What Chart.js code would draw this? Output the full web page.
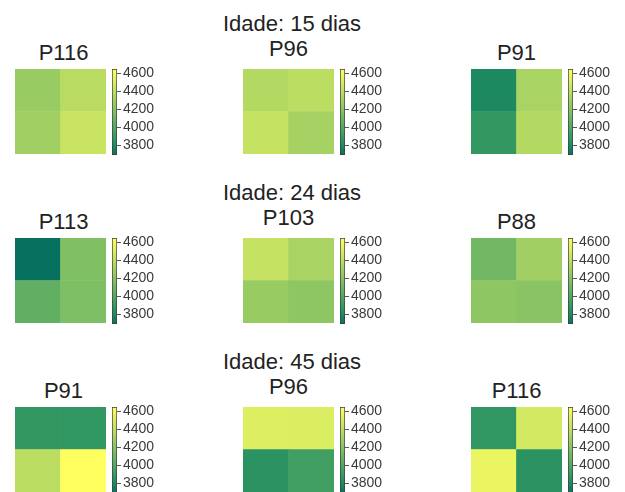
<!DOCTYPE html>
<html>
<head>
<meta charset="utf-8">
<script src="https://cdn.jsdelivr.net/npm/chart.js@4.4.1/dist/chart.umd.min.js"></script>
<style>
  html, body { margin: 0; padding: 0; background: #fff; width: 625px; height: 492px; overflow: hidden; }
  #wrap { position: relative; width: 625px; height: 492px; overflow: hidden; }
  .t { position: absolute; font-family: "Liberation Sans", Arial, sans-serif; font-size: 22px;
       line-height: 22px; color: #222; white-space: nowrap; transform: translateX(-50%); }
  canvas { position: absolute; }
</style>
</head>
<body>
<div id="wrap"></div>
<script>
// Row headings (age) and plot names per panel
const ageLabels = ['Idade: 15 dias', 'Idade: 24 dias', 'Idade: 45 dias'];
const plotNames15 = ['P116', 'P96', 'P91'];
const plotNames24 = ['P113', 'P103', 'P88'];
const plotNames45 = ['P91', 'P96', 'P116'];

// 2x2 grids, [top row], [bottom row]
const p116_15 = [[4260, 4380], [4290, 4440]];
const p96_15  = [[4360, 4390], [4430, 4310]];
const p91_15  = [[3790, 4320], [3880, 4360]];
const p113_24 = [[3690, 4170], [4050, 4160]];
const p103_24 = [[4430, 4320], [4260, 4220]];
const p88_24  = [[4110, 4290], [4220, 4200]];
const p91_45  = [[3880, 3870], [4390, 4645]];
const p96_45  = [[4520, 4510], [3850, 3930]];
const p116_45 = [[3870, 4480], [4570, 3850]];

// Column categories inside each grid
const gridColumns = ['1', '2'];

// Shared colour scale
const colorMin = 3690;
const colorMax = 4645;
const colorbarTicks = [3800, 4000, 4200, 4400, 4600];

const rows = [
  { title: ageLabels[0], names: plotNames15, grids: [p116_15, p96_15, p91_15] },
  { title: ageLabels[1], names: plotNames24, grids: [p113_24, p103_24, p88_24] },
  { title: ageLabels[2], names: plotNames45, grids: [p91_45, p96_45, p116_45] }
];

// green -> yellow colormap
const cmapStops = [
  [0.00, [8, 112, 94]],
  [0.12, [31, 141, 98]],
  [0.50, [128, 191, 100]],
  [1.00, [255, 255, 96]]
];
function cmap(t) {
  t = Math.max(0, Math.min(1, t));
  for (let i = 1; i < cmapStops.length; i++) {
    const [t1, c1] = cmapStops[i];
    const [t0, c0] = cmapStops[i - 1];
    if (t <= t1) {
      const f = (t - t0) / (t1 - t0);
      const c = c0.map((v, k) => Math.round(v + (c1[k] - v) * f));
      return `rgb(${c[0]},${c[1]},${c[2]})`;
    }
  }
  const c = cmapStops[cmapStops.length - 1][1];
  return `rgb(${c[0]},${c[1]},${c[2]})`;
}
const valueToColor = v => cmap((v - colorMin) / (colorMax - colorMin));

const FONT = '"Liberation Sans", Arial, sans-serif';
const wrap = document.getElementById('wrap');

// layout
const colX = [15, 243, 471];      // heatmap left edges
const heatW = 91, heatH = 85;
const rowStep = 169;
const heatTop0 = 69;
const cbOffset = 97;             // colorbar left relative to heatmap left
const cbW = 5, cbAxisW = 45, cbPad = 12, cbH = 86;

function addText(txt, cx, top) {
  const d = document.createElement('div');
  d.className = 't';
  d.textContent = txt;
  d.style.left = cx + 'px';
  d.style.top = top + 'px';
  wrap.appendChild(d);
}

function addCanvas(x, y, w, h) {
  const c = document.createElement('canvas');
  c.width = w; c.height = h;
  c.style.left = x + 'px'; c.style.top = y + 'px';
  c.style.width = w + 'px'; c.style.height = h + 'px';
  wrap.appendChild(c);
  return c;
}

function makeHeatmap(canvas, grid) {
  const top = grid[0], bottom = grid[1];
  new Chart(canvas, {
    type: 'bar',
    data: {
      labels: gridColumns,
      datasets: [
        { data: bottom.map(() => 1), backgroundColor: bottom.map(valueToColor) },
        { data: top.map(() => 1), backgroundColor: top.map(valueToColor) }
      ]
    },
    options: {
      responsive: false, animation: false, events: [],
      layout: { padding: 0 },
      plugins: { legend: { display: false }, tooltip: { enabled: false } },
      datasets: { bar: { barPercentage: 1, categoryPercentage: 1, borderWidth: 0 } },
      scales: {
        x: { display: false, stacked: true },
        y: { display: false, stacked: true, min: 0, max: 2 }
      }
    }
  });
}

function makeColorbar(canvas) {
  new Chart(canvas, {
    type: 'bar',
    data: {
      labels: [''],
      datasets: [{
        data: [[colorMin, colorMax]],
        backgroundColor: (ctx) => {
          const chart = ctx.chart;
          const area = chart.chartArea;
          if (!area) return cmap(0.5);
          const ys = chart.scales.y;
          const g = chart.ctx.createLinearGradient(0, ys.getPixelForValue(colorMin), 0, ys.getPixelForValue(colorMax));
          for (let i = 0; i <= 20; i++) g.addColorStop(i / 20, cmap(i / 20));
          return g;
        },
        borderColor: '#3c3c3c',
        borderWidth: 1,
        borderSkipped: false
      }]
    },
    options: {
      responsive: false, animation: false, events: [],
      layout: { padding: { top: cbPad, bottom: cbPad, left: 0, right: 0 } },
      plugins: { legend: { display: false }, tooltip: { enabled: false } },
      datasets: { bar: { barPercentage: 1, categoryPercentage: 1 } },
      scales: {
        x: { display: false },
        y: {
          position: 'right', min: colorMin, max: colorMax,
          afterBuildTicks: s => { s.ticks = colorbarTicks.map(v => ({ value: v })); },
          afterFit: s => { s.width = cbAxisW; },
          grid: { drawOnChartArea: false, drawTicks: true, tickLength: 4, color: '#555', lineWidth: 1 },
          border: { display: false },
          ticks: { padding: 2, color: '#3a3a3a', font: { family: FONT, size: 14 }, callback: v => String(v) }
        }
      }
    }
  });
}

rows.forEach((row, r) => {
  const dy = r * rowStep;
  addText(row.title, 292, 13 + dy);
  row.names.forEach((name, c) => {
    const x = colX[c];
    const titleTop = (c === 1 ? 38 : 41.5) + dy;
    addText(name, x + heatW / 2 + (c === 0 ? 3 : 0), titleTop);
    makeHeatmap(addCanvas(x, heatTop0 + dy, heatW, heatH), row.grids[c]);
    makeColorbar(addCanvas(x + cbOffset, heatTop0 + dy - cbPad, cbW + cbAxisW, cbH + 2 * cbPad));
  });
});
</script>
</body>
</html>
